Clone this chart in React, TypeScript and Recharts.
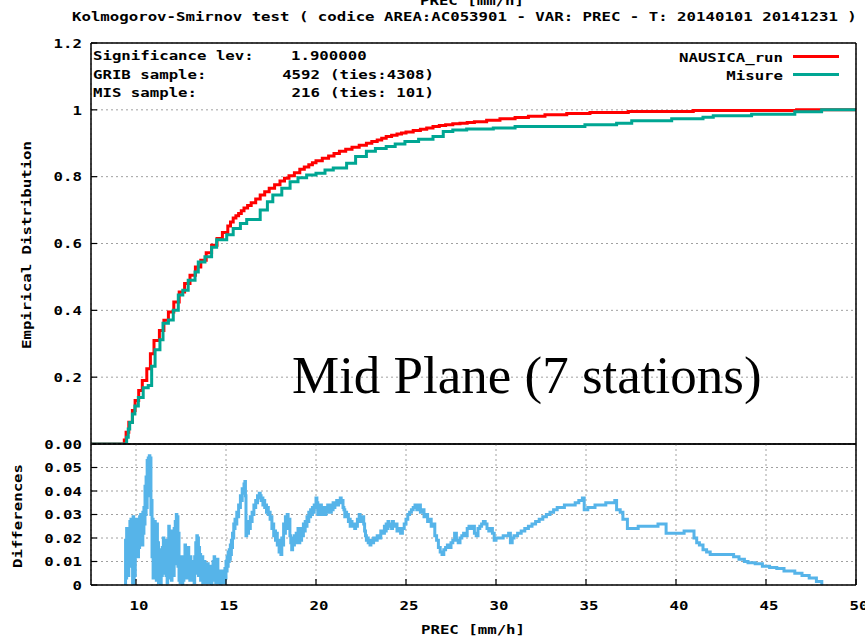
import React from 'react';
import { LineChart, Line, XAxis, YAxis, CartesianGrid } from 'recharts';

// ---------- data ----------
const precTicks = [10, 15, 20, 25, 30, 35, 40, 45, 50];
const cdfTicks = [0, 0.2, 0.4, 0.6, 0.8, 1, 1.2];
const cdfTickLabels = ['0.00', '0.2', '0.4', '0.6', '0.8', '1', '1.2'];
const diffTicks = [0, 0.01, 0.02, 0.03, 0.04, 0.05];
const diffTickLabels = ['0', '0.01', '0.02', '0.03', '0.04', '0.05'];

const nausicaPrec = [7.5, 9.35, 9.45, 9.6, 9.8, 9.95, 10.15, 10.35, 10.6, 10.8, 11.0, 11.3, 11.55, 11.8, 12.1, 12.4, 12.7, 13.0, 13.3, 13.6, 13.9, 14.2, 14.5, 14.8, 15.1, 15.25, 15.4, 15.55, 15.7, 15.85, 16.0, 16.2, 16.4, 16.65, 16.9, 17.15, 17.4, 17.7, 18.0, 18.25, 18.5, 18.8, 19.1, 19.35, 19.6, 19.8, 20.0, 20.35, 20.7, 21.0, 21.3, 21.65, 22.0, 22.4, 22.8, 23.1, 23.4, 23.65, 23.9, 24.2, 24.5, 24.75, 25.0, 25.4, 25.8, 26.15, 26.5, 26.85, 27.2, 27.6, 28.0, 28.4, 28.8, 29.48, 30.22, 31.06, 31.8, 32.72, 33.93, 35.22, 37.35, 40.96, 46.7, 50];
const nausicaCdf = [0, 0.012, 0.035, 0.065, 0.1, 0.13, 0.16, 0.19, 0.225, 0.27, 0.31, 0.34, 0.37, 0.395, 0.425, 0.455, 0.48, 0.505, 0.53, 0.55, 0.572, 0.595, 0.615, 0.633, 0.652, 0.664, 0.676, 0.683, 0.69, 0.698, 0.706, 0.714, 0.722, 0.733, 0.745, 0.755, 0.765, 0.776, 0.787, 0.795, 0.803, 0.812, 0.822, 0.829, 0.836, 0.842, 0.848, 0.855, 0.862, 0.869, 0.876, 0.882, 0.888, 0.894, 0.9, 0.905, 0.91, 0.915, 0.92, 0.924, 0.928, 0.931, 0.934, 0.938, 0.942, 0.946, 0.95, 0.953, 0.955, 0.958, 0.96, 0.962, 0.964, 0.969, 0.973, 0.977, 0.981, 0.985, 0.989, 0.992, 0.995, 0.998, 1.0, 1.0];

const misurePrec = [7.5, 9.48, 9.57, 9.65, 9.8, 9.94, 10.13, 10.4, 10.68, 10.87, 11.06, 11.33, 11.5, 11.8, 12.07, 12.35, 12.6, 12.9, 13.28, 13.46, 13.83, 14.2, 14.48, 15.04, 15.4, 15.8, 16.15, 16.9, 17.3, 17.6, 18.1, 18.56, 19.0, 19.48, 20.0, 20.5, 20.96, 21.7, 22.2, 22.8, 23.3, 23.9, 24.4, 24.94, 25.7, 26.5, 27.07, 27.6, 28.37, 29.85, 31.06, 34.94, 36.7, 37.54, 39.76, 41.5, 42.07, 44.2, 46.6, 48.09, 50];
const misureCdf = [0, 0.02, 0.045, 0.064, 0.09, 0.114, 0.139, 0.168, 0.175, 0.233, 0.282, 0.312, 0.361, 0.371, 0.4, 0.446, 0.46, 0.49, 0.515, 0.545, 0.56, 0.589, 0.611, 0.626, 0.645, 0.66, 0.672, 0.7, 0.725, 0.745, 0.765, 0.785, 0.797, 0.805, 0.81, 0.82, 0.826, 0.84, 0.86, 0.876, 0.884, 0.89, 0.898, 0.905, 0.912, 0.92, 0.935, 0.94, 0.943, 0.946, 0.95, 0.955, 0.96, 0.967, 0.973, 0.978, 0.982, 0.987, 0.994, 1.0, 1.0];

const diffPoints: [number, number][] = [
  [9.40, 0.000], [9.42, 0.019], [9.45, 0.003], [9.48, 0.024], [9.51, 0.006], [9.54, 0.021], [9.57, 0.004], [9.60, 0.022],
  [9.63, 0.009], [9.66, 0.027], [9.69, 0.011], [9.72, 0.028], [9.75, 0.008], [9.78, 0.026], [9.81, 0.001], [9.84, 0.029],
  [9.87, 0.000], [9.90, 0.027], [9.93, 0.004], [9.96, 0.025], [9.99, 0.013], [10.02, 0.028], [10.05, 0.015], [10.08, 0.024],
  [10.11, 0.012], [10.14, 0.027], [10.17, 0.016], [10.20, 0.029], [10.23, 0.018], [10.26, 0.030], [10.29, 0.021], [10.32, 0.028],
  [10.35, 0.017], [10.38, 0.031], [10.41, 0.022], [10.44, 0.033], [10.47, 0.026], [10.50, 0.042], [10.53, 0.030], [10.56, 0.046],
  [10.59, 0.033], [10.62, 0.053], [10.65, 0.040], [10.68, 0.054], [10.71, 0.044], [10.74, 0.055], [10.77, 0.038], [10.80, 0.054],
  [10.83, 0.030], [10.86, 0.036], [10.89, 0.012], [10.92, 0.028], [10.95, 0.003], [10.98, 0.024], [11.01, 0.006], [11.04, 0.027],
  [11.07, 0.004], [11.10, 0.020], [11.13, 0.002], [11.16, 0.026], [11.19, 0.008], [11.22, 0.018], [11.25, 0.001], [11.28, 0.015],
  [11.31, 0.003], [11.34, 0.013], [11.37, 0.000], [11.40, 0.012], [11.43, 0.004], [11.46, 0.016], [11.49, 0.006], [11.52, 0.020],
  [11.55, 0.005], [11.58, 0.017], [11.61, 0.008], [11.64, 0.019], [11.67, 0.004], [11.70, 0.015], [11.73, 0.001], [11.76, 0.018],
  [11.79, 0.006], [11.82, 0.025], [11.85, 0.003], [11.88, 0.021], [11.91, 0.007], [11.94, 0.023], [11.97, 0.002], [12.00, 0.018],
  [12.03, 0.006], [12.06, 0.016], [12.09, 0.004], [12.12, 0.024], [12.15, 0.009], [12.18, 0.027], [12.21, 0.011], [12.24, 0.030],
  [12.27, 0.014], [12.30, 0.029], [12.33, 0.008], [12.36, 0.022], [12.39, 0.002], [12.42, 0.011], [12.45, 0.001], [12.48, 0.009],
  [12.51, 0.003], [12.54, 0.012], [12.57, 0.000], [12.60, 0.008], [12.63, 0.002], [12.66, 0.010], [12.69, 0.003], [12.72, 0.017],
  [12.75, 0.005], [12.78, 0.015], [12.81, 0.003], [12.84, 0.013], [12.87, 0.006], [12.90, 0.016], [12.93, 0.004], [12.96, 0.011],
  [12.99, 0.002], [13.02, 0.012], [13.05, 0.004], [13.08, 0.009], [13.11, 0.002], [13.14, 0.010], [13.17, 0.003], [13.20, 0.008],
  [13.23, 0.001], [13.26, 0.012], [13.29, 0.005], [13.32, 0.018], [13.35, 0.006], [13.38, 0.021], [13.41, 0.009], [13.44, 0.020],
  [13.47, 0.004], [13.50, 0.016], [13.53, 0.006], [13.56, 0.013], [13.59, 0.002], [13.62, 0.011], [13.65, 0.004], [13.68, 0.012],
  [13.71, 0.001], [13.74, 0.009], [13.77, 0.003], [13.80, 0.010], [13.83, 0.002], [13.86, 0.008], [13.89, 0.001], [13.92, 0.007],
  [13.95, 0.002], [13.98, 0.009], [14.01, 0.003], [14.04, 0.006], [14.07, 0.001], [14.10, 0.008], [14.13, 0.002], [14.16, 0.005],
  [14.19, 0.000], [14.22, 0.007], [14.25, 0.002], [14.28, 0.010], [14.31, 0.003], [14.34, 0.012], [14.37, 0.004], [14.40, 0.009],
  [14.43, 0.001], [14.46, 0.007], [14.49, 0.002], [14.52, 0.011], [14.55, 0.003], [14.58, 0.006], [14.61, 0.001], [14.64, 0.005],
  [14.67, 0.000], [14.70, 0.006], [14.73, 0.002], [14.76, 0.004], [14.79, 0.001], [14.82, 0.006], [14.85, 0.002], [14.88, 0.005],
  [14.91, 0.001], [14.94, 0.007], [14.97, 0.003], [15.00, 0.010], [15.03, 0.006], [15.06, 0.012], [15.09, 0.008], [15.12, 0.014],
  [15.15, 0.010], [15.18, 0.015], [15.21, 0.011], [15.24, 0.017], [15.27, 0.013], [15.30, 0.019], [15.33, 0.016], [15.36, 0.022],
  [15.40, 0.020], [15.43, 0.026], [15.47, 0.024], [15.50, 0.028], [15.55, 0.026], [15.60, 0.031], [15.65, 0.029], [15.70, 0.034],
  [15.75, 0.033], [15.80, 0.038], [15.85, 0.036], [15.90, 0.041], [15.95, 0.039], [16.00, 0.043], [16.05, 0.044], [16.08, 0.038],
  [16.11, 0.021], [16.15, 0.024], [16.20, 0.022], [16.25, 0.027], [16.30, 0.024], [16.35, 0.029], [16.40, 0.027], [16.45, 0.031],
  [16.50, 0.030], [16.55, 0.034], [16.60, 0.033], [16.65, 0.036], [16.70, 0.035], [16.75, 0.038], [16.80, 0.037], [16.85, 0.039],
  [16.90, 0.038], [16.95, 0.036], [17.00, 0.037], [17.05, 0.034], [17.10, 0.036], [17.15, 0.033], [17.20, 0.034], [17.25, 0.031],
  [17.30, 0.033], [17.35, 0.030], [17.40, 0.031], [17.45, 0.028], [17.50, 0.029], [17.55, 0.024], [17.60, 0.026], [17.65, 0.021],
  [17.70, 0.023], [17.75, 0.019], [17.80, 0.022], [17.85, 0.017], [17.90, 0.019], [17.95, 0.014], [18.00, 0.018], [18.05, 0.013],
  [18.10, 0.020], [18.15, 0.017], [18.20, 0.026], [18.25, 0.022], [18.30, 0.029], [18.35, 0.024], [18.40, 0.030], [18.45, 0.026],
  [18.50, 0.028], [18.55, 0.021], [18.60, 0.018], [18.65, 0.015], [18.70, 0.020], [18.75, 0.017], [18.80, 0.021], [18.85, 0.018],
  [18.90, 0.022], [18.95, 0.019], [19.00, 0.024], [19.05, 0.018], [19.10, 0.021], [19.15, 0.019], [19.20, 0.024], [19.25, 0.021],
  [19.30, 0.026], [19.35, 0.023], [19.40, 0.027], [19.45, 0.025], [19.50, 0.029], [19.55, 0.027], [19.60, 0.031], [19.65, 0.029],
  [19.70, 0.032], [19.75, 0.030], [19.80, 0.033], [19.85, 0.031], [19.90, 0.034], [19.95, 0.033], [20.00, 0.037], [20.05, 0.035],
  [20.10, 0.030], [20.15, 0.033], [20.20, 0.030], [20.25, 0.034], [20.30, 0.031], [20.35, 0.033], [20.40, 0.030], [20.45, 0.032],
  [20.50, 0.030], [20.55, 0.033], [20.60, 0.031], [20.65, 0.034], [20.70, 0.032], [20.75, 0.034], [20.80, 0.031], [20.85, 0.033],
  [20.90, 0.032], [20.95, 0.035], [21.00, 0.033], [21.05, 0.035], [21.10, 0.034], [21.15, 0.036], [21.20, 0.034], [21.25, 0.036],
  [21.30, 0.035], [21.35, 0.037], [21.40, 0.035], [21.45, 0.036], [21.50, 0.033], [21.55, 0.032], [21.60, 0.029], [21.65, 0.031],
  [21.70, 0.029], [21.75, 0.030], [21.80, 0.027], [21.85, 0.028], [21.90, 0.025], [21.95, 0.027], [22.00, 0.025], [22.10, 0.026],
  [22.15, 0.024], [22.20, 0.026], [22.25, 0.025], [22.30, 0.028], [22.35, 0.027], [22.40, 0.030], [22.45, 0.028], [22.50, 0.029],
  [22.55, 0.027], [22.60, 0.029], [22.65, 0.026], [22.70, 0.023], [22.75, 0.021], [22.80, 0.019], [22.85, 0.020], [22.90, 0.018],
  [22.95, 0.019], [23.00, 0.017], [23.05, 0.019], [23.10, 0.018], [23.20, 0.020], [23.30, 0.019], [23.40, 0.021], [23.50, 0.020],
  [23.60, 0.023], [23.70, 0.022], [23.80, 0.025], [23.85, 0.023], [23.90, 0.026], [23.95, 0.024], [24.00, 0.027], [24.05, 0.025],
  [24.10, 0.026], [24.20, 0.024], [24.25, 0.027], [24.30, 0.025], [24.40, 0.026], [24.50, 0.023], [24.60, 0.024], [24.70, 0.022],
  [24.80, 0.024], [24.90, 0.026], [25.00, 0.028], [25.10, 0.030], [25.20, 0.031], [25.30, 0.032], [25.40, 0.033], [25.50, 0.034],
  [25.60, 0.032], [25.70, 0.034], [25.80, 0.031], [25.90, 0.032], [26.00, 0.029], [26.10, 0.030], [26.20, 0.027], [26.30, 0.028],
  [26.40, 0.025], [26.50, 0.026], [26.60, 0.021], [26.70, 0.019], [26.80, 0.016], [26.90, 0.014], [27.00, 0.013], [27.10, 0.015],
  [27.20, 0.016], [27.30, 0.017], [27.40, 0.016], [27.50, 0.018], [27.60, 0.019], [27.70, 0.022], [27.80, 0.019], [27.90, 0.018],
  [28.00, 0.020], [28.10, 0.021], [28.20, 0.022], [28.30, 0.021], [28.40, 0.024], [28.50, 0.025], [28.60, 0.024], [28.70, 0.025],
  [28.80, 0.022], [28.90, 0.021], [29.00, 0.024], [29.10, 0.025], [29.20, 0.026], [29.30, 0.027], [29.40, 0.026], [29.50, 0.024],
  [29.60, 0.023], [29.70, 0.024], [29.80, 0.022], [29.90, 0.019], [30.00, 0.020], [30.20, 0.020], [30.40, 0.021], [30.60, 0.021],
  [30.70, 0.022], [30.80, 0.018], [30.90, 0.020], [31.00, 0.021], [31.20, 0.022], [31.40, 0.023], [31.60, 0.024], [31.80, 0.025],
  [32.00, 0.026], [32.20, 0.027], [32.40, 0.028], [32.60, 0.029], [32.80, 0.030], [33.00, 0.031], [33.20, 0.032], [33.40, 0.033],
  [33.60, 0.033], [33.80, 0.034], [34.00, 0.034], [34.20, 0.034], [34.40, 0.035], [34.60, 0.036], [34.80, 0.037], [34.90, 0.032],
  [35.10, 0.033], [35.30, 0.033], [35.50, 0.034], [35.80, 0.034], [36.10, 0.035], [36.40, 0.035], [36.60, 0.036], [36.70, 0.032],
  [36.90, 0.031], [37.05, 0.028], [37.30, 0.024], [37.60, 0.024], [37.90, 0.025], [38.20, 0.025], [38.60, 0.025], [39.00, 0.026],
  [39.30, 0.026], [39.45, 0.022], [39.80, 0.022], [40.20, 0.022], [40.45, 0.023], [40.80, 0.023], [41.00, 0.020], [41.15, 0.018],
  [41.30, 0.017], [41.50, 0.015], [41.70, 0.014], [41.90, 0.013], [43.00, 0.013], [43.20, 0.012], [43.50, 0.011], [43.80, 0.010],
  [44.00, 0.0095], [44.40, 0.009], [44.80, 0.008], [45.20, 0.0075], [45.60, 0.007], [46.00, 0.006], [46.60, 0.005], [47.00, 0.004],
  [47.40, 0.003], [47.80, 0.0015], [48.10, 0.000],
];

const nausicaData = nausicaPrec.map((x, i) => ({ x, y: nausicaCdf[i] }));
const misureData = misurePrec.map((x, i) => ({ x, y: misureCdf[i] }));
const diffData = diffPoints.map(([x, y]) => ({ x, y }));

// ---------- styling helpers ----------
const MONO = "'DejaVu Sans Mono', monospace";
const SX = 1.21;
const RED = '#ff0000';
const TEAL = '#00a693';
const SKY = '#56b4e9';
const GRID = '#a0a0a0';

function MonoText({ x, y, anchor = 'start', rotate = 0, children }: any) {
  const t = `translate(${x},${y})${rotate ? ` rotate(${rotate})` : ''} scale(${SX},1)`;
  return (
    <text transform={t} x={0} y={0} textAnchor={anchor} fontFamily={MONO} fontWeight="bold" fontSize={13} fill="#000">
      {children}
    </text>
  );
}

const CdfTick = (props: any) => {
  const { x, y, payload } = props;
  const i = cdfTicks.indexOf(payload.value);
  return <MonoText x={x} y={y + 4.7} anchor="end">{cdfTickLabels[i]}</MonoText>;
};
const DiffTick = (props: any) => {
  const { x, y, payload } = props;
  const i = diffTicks.indexOf(payload.value);
  return <MonoText x={x} y={y + 4.7} anchor="end">{diffTickLabels[i]}</MonoText>;
};
const PrecTick = (props: any) => {
  const { x, y, payload } = props;
  return <MonoText x={x + 3} y={y} anchor="middle">{String(payload.value)}</MonoText>;
};

const axisLine = { stroke: '#000', strokeWidth: 1.5 };
const tickLine = { stroke: '#000', strokeWidth: 1.2 };

export default function App() {
  return (
    <div style={{ position: 'absolute', left: 0, top: 0, width: 865, height: 638, background: '#fff', overflow: 'hidden' }}>
      {/* top panel: empirical distributions */}
      <div style={{ position: 'absolute', left: 0, top: 0 }}>
        <LineChart width={865} height={460} margin={{ top: 42, right: 8, left: 90, bottom: 15 }}>
          <CartesianGrid stroke={GRID} strokeDasharray="2 3" />
          <XAxis type="number" dataKey="x" domain={[7.5, 50]} ticks={precTicks} interval={0} allowDataOverflow
            height={1} tick={false} tickSize={-6} axisLine={axisLine} tickLine={tickLine} />
          <XAxis xAxisId="top" orientation="top" type="number" dataKey="x" domain={[7.5, 50]} ticks={precTicks} interval={0} allowDataOverflow
            height={1} tick={false} tickSize={-6} axisLine={axisLine} tickLine={tickLine} />
          <YAxis type="number" domain={[0, 1.2]} ticks={cdfTicks} interval={0} allowDataOverflow width={1}
            tick={<CdfTick />} tickSize={-6} tickMargin={15} axisLine={axisLine} tickLine={tickLine} />
          <YAxis yAxisId="right" orientation="right" type="number" domain={[0, 1.2]} ticks={cdfTicks} interval={0} allowDataOverflow width={1}
            tick={false} tickSize={-6} axisLine={axisLine} tickLine={tickLine} />
          <Line data={nausicaData} dataKey="y" type="stepAfter" stroke={RED} strokeWidth={3} dot={false} activeDot={false} isAnimationActive={false} />
          <Line data={misureData} dataKey="y" type="stepAfter" stroke={TEAL} strokeWidth={3} dot={false} activeDot={false} isAnimationActive={false} />
        </LineChart>
      </div>

      {/* bottom panel: differences */}
      <div style={{ position: 'absolute', left: 0, top: 0 }}>
        <LineChart width={865} height={638} margin={{ top: 443, right: 8, left: 90, bottom: 52 }}>
          <CartesianGrid stroke={GRID} strokeDasharray="2 3" />
          <XAxis type="number" dataKey="x" domain={[7.5, 50]} ticks={precTicks} interval={0} allowDataOverflow
            height={1} tick={<PrecTick />} tickSize={-6} tickMargin={31} axisLine={axisLine} tickLine={tickLine} />
          <XAxis xAxisId="top" orientation="top" type="number" dataKey="x" domain={[7.5, 50]} ticks={precTicks} interval={0} allowDataOverflow
            height={1} tick={false} tickSize={-6} axisLine={axisLine} tickLine={tickLine} />
          <YAxis type="number" domain={[0, 0.06]} ticks={diffTicks} interval={0} allowDataOverflow width={1}
            tick={<DiffTick />} tickSize={-6} tickMargin={15} axisLine={axisLine} tickLine={tickLine} />
          <YAxis yAxisId="right" orientation="right" type="number" domain={[0, 0.06]} ticks={diffTicks} interval={0} allowDataOverflow width={1}
            tick={false} tickSize={-6} axisLine={axisLine} tickLine={tickLine} />
          <Line data={diffData} dataKey="y" type="stepAfter" stroke={SKY} strokeWidth={3} dot={false} activeDot={false} isAnimationActive={false} />
        </LineChart>
      </div>

      {/* texts: titles, labels, legend, annotations */}
      <svg width={865} height={638} style={{ position: 'absolute', left: 0, top: 0, pointerEvents: 'none' }}>
        <MonoText x={472} y={5} anchor="middle">PREC [mm/h]</MonoText>
        <MonoText x={72} y={21}>Kolmogorov-Smirnov test ( codice AREA:AC053901 - VAR: PREC - T: 20140101 20141231 )</MonoText>

        <MonoText x={31.4} y={245} anchor="middle" rotate={-90}>Empirical Distribution</MonoText>
        <MonoText x={22.2} y={516} anchor="middle" rotate={-90}>Differences</MonoText>
        <MonoText x={473} y={634} anchor="middle">PREC [mm/h]</MonoText>

        <MonoText x={93} y={60}>Significance lev:</MonoText>
        <MonoText x={291} y={60}>1.900000</MonoText>
        <MonoText x={93} y={78.5}>GRIB sample:</MonoText>
        <MonoText x={320} y={78.5} anchor="end">4592</MonoText>
        <MonoText x={330} y={78.5}>(ties:4308)</MonoText>
        <MonoText x={93} y={97}>MIS sample:</MonoText>
        <MonoText x={320} y={97} anchor="end">216</MonoText>
        <MonoText x={330} y={97}>(ties: 101)</MonoText>

        <MonoText x={783} y={62} anchor="end">NAUSICA_run</MonoText>
        <line x1={793} x2={839} y1={56.5} y2={56.5} stroke={RED} strokeWidth={3} />
        <MonoText x={783} y={80} anchor="end">Misure</MonoText>
        <line x1={793} x2={839} y1={74.5} y2={74.5} stroke={TEAL} strokeWidth={3} />

        <text x={292} y={393} fontFamily="'Liberation Serif', 'Times New Roman', serif" fontSize={53} fill="#000">
          Mid Plane (7 stations)
        </text>
      </svg>
    </div>
  );
}
